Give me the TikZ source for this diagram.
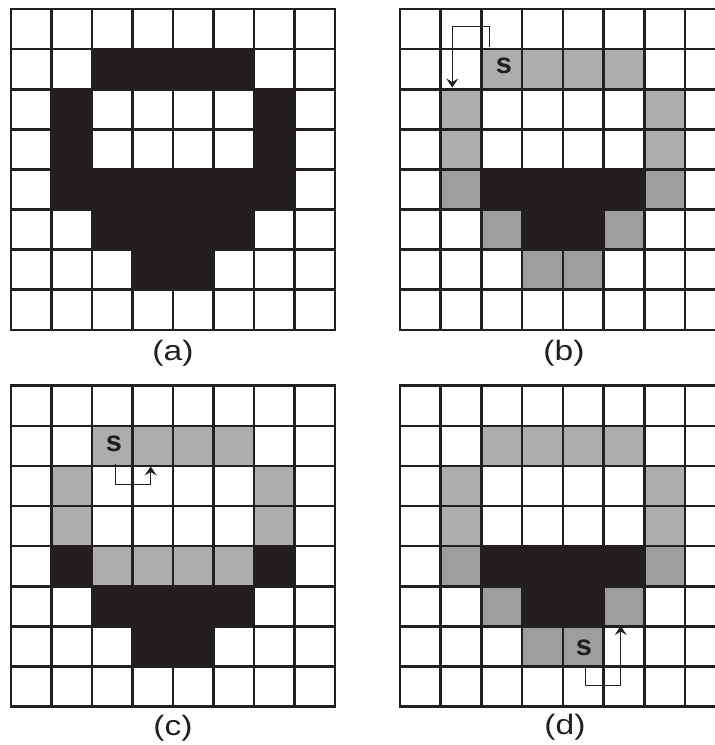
\documentclass[tikz,border=0pt]{standalone}
\usepackage{fontspec}
\setmainfont{Liberation Sans}
\usetikzlibrary{arrows.meta}
\definecolor{blk}{HTML}{231F20}
\definecolor{lg}{HTML}{ADADAD}
\definecolor{dg}{HTML}{9D9F9E}
\newcommand\fillcells[2]{\foreach \cc/\rr in {#2} {\fill[#1] (\cc,\rr) rectangle ++(1,1);}}
\newcommand\gridlines{\foreach \ii in {1,...,7}{\draw[gl] (\ii,0) -- (\ii,8); \draw[gl] (0,\ii) -- (8,\ii);}\draw[gl] (0,0) rectangle (8,8);}
\begin{document}
\begin{tikzpicture}[x=1pt,y=-1pt,
  gl/.style={draw=blk,line width=2.6pt},
  arr/.style={draw=blk,line width=1pt,-{Stealth[length=9pt,width=12pt,inset=3.5pt]}},
  lbl/.style={font=\fontsize{28}{30}\selectfont,text=blk,xscale=1.2},
  smark/.style={font=\fontsize{29}{32}\selectfont\bfseries,text=blk}]
\useasboundingbox (0,0) rectangle (715,745);
\clip (0,0) rectangle (715,745);
\fill[white] (0,0) rectangle (715,745);
% (a)
\begin{scope}[shift={(11,9)},x=40.5pt,y=-40.1pt]
  \fillcells{blk}{2/1,3/1,4/1,5/1,1/2,6/2,1/3,6/3,1/4,2/4,3/4,4/4,5/4,6/4,2/5,3/5,4/5,5/5,3/6,4/6}
  \gridlines
\end{scope}
% (b)
\begin{scope}[shift={(400,9)},x=40.7pt,y=-40.1pt]
  \fillcells{lg}{2/1,3/1,4/1,5/1,1/2,6/2,1/3,6/3}
  \fillcells{dg}{1/4,6/4,2/5,5/5,3/6,4/6}
  \fillcells{blk}{2/4,3/4,4/4,5/4,3/5,4/5}
  \gridlines
\end{scope}
% (c)
\begin{scope}[shift={(11,385.7)},x=40.5pt,y=-40.1pt]
  \fillcells{lg}{2/1,3/1,4/1,5/1,1/2,6/2,1/3,6/3,2/4,3/4,4/4,5/4}
  \fillcells{blk}{1/4,6/4,2/5,3/5,4/5,5/5,3/6,4/6}
  \gridlines
\end{scope}
% (d)
\begin{scope}[shift={(400,385.7)},x=40.7pt,y=-40.1pt]
  \fillcells{lg}{2/1,3/1,4/1,5/1,1/2,6/2,1/3,6/3}
  \fillcells{dg}{1/4,6/4,2/5,5/5,3/6,4/6}
  \fillcells{blk}{2/4,3/4,4/4,5/4,3/5,4/5}
  \gridlines
\end{scope}
% start marks
\node[smark] (sb) at (504,66) {s};
\node[smark] (sc) at (114,443.5) {s};
\node[smark] (sd) at (584,647.5) {s};
% arrows
\coordinate (b1) at (489.3,46.7);
\coordinate (b2) at (489.3,26.7);
\coordinate (b3) at (452.3,26.7);
\coordinate (b4) at (452.3,87.5);
\draw[arr] (b1) -- (b2) -- (b3) -- (b4);
\coordinate (c1) at (115,464.3);
\coordinate (c2) at (115,484.3);
\coordinate (c3) at (150.7,484.3);
\coordinate (c4) at (150.7,466.5);
\draw[arr] (c1) -- (c2) -- (c3) -- (c4);
\coordinate (d1) at (585,665);
\coordinate (d2) at (585,685.7);
\coordinate (d3) at (620.7,685.7);
\coordinate (d4) at (620.7,626);
\draw[arr] (d1) -- (d2) -- (d3) -- (d4);
% labels
\node[lbl] (la) at (173,353) {(a)};
\node[lbl] (lb) at (564,353) {(b)};
\node[lbl] (lc) at (173,728) {(c)};
\node[lbl] (ld) at (565,727) {(d)};
\end{tikzpicture}
\end{document}
